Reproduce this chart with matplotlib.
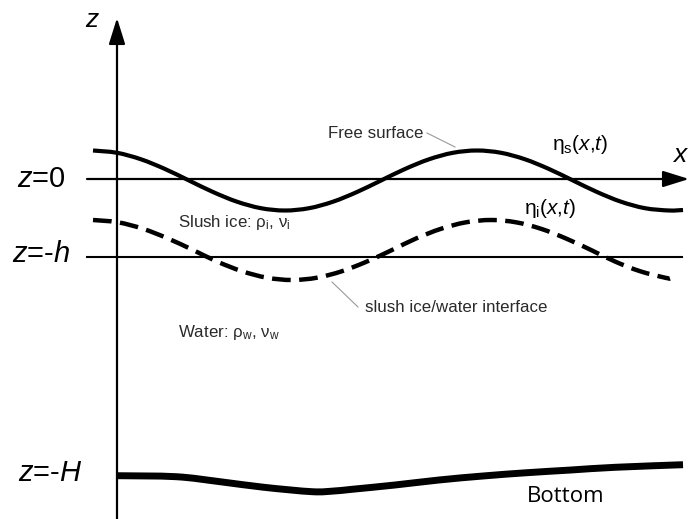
import matplotlib.pyplot as plt
from matplotlib.path import Path
from matplotlib.patches import PathPatch

plt.rcParams['font.family'] = ['Liberation Sans', 'DejaVu Sans']
plt.rcParams['mathtext.fontset'] = 'custom'
plt.rcParams['mathtext.rm'] = 'Liberation Sans'
plt.rcParams['mathtext.it'] = 'Liberation Sans:italic'

# levels of the reference lines (z=0 is the still free surface)
z_surface = 0
z_h = -78

# free surface eta_s(x,t)
surf_x = [93, 117, 141, 165, 189, 213, 237, 261, 285, 309, 333, 357, 381,
          405, 429, 453, 477, 501, 525, 549, 573, 597, 621, 645, 669, 683]
surf_z = [28.5, 26.2, 19.7, 10.0, -1.5, -13.0, -22.7, -29.2, -31.5, -29.2,
          -22.7, -13.0, -1.5, 10.0, 19.7, 26.2, 28.5, 26.2, 19.7, 10.0, -1.5,
          -13.0, -22.7, -29.2, -31.5, -31.0]

# slush ice / water interface eta_i(x,t)
intf_x = [93, 118, 143, 168, 193, 217, 242, 267, 292, 317, 342, 367, 392,
          416, 441, 466, 491, 516, 541, 566, 591, 615, 640, 665, 670]
intf_z = [-41.0, -43.3, -49.8, -59.5, -71.0, -82.5, -92.2, -98.7, -101.0,
          -98.7, -92.2, -82.5, -71.0, -59.5, -49.8, -43.3, -41.0, -43.3,
          -49.8, -59.5, -71.0, -82.5, -92.2, -98.7, -99.5]

# bottom z=-H
bot_x = [116, 176, 220, 264, 312, 334, 352, 395, 439, 483, 527, 571, 615, 683]
bot_z = [-296.7, -297.7, -302.7, -308.3, -312.7, -312.0, -310.3, -306.0,
         -301.0, -297.0, -293.7, -291.0, -288.3, -285.7]


def smooth_path(xs, ys):
    # Catmull-Rom through the given points, as cubic Bezier segments
    pts = list(zip(xs, ys))
    verts = [pts[0]]
    codes = [Path.MOVETO]
    for i in range(len(pts) - 1):
        p0 = pts[i - 1] if i > 0 else pts[i]
        p1, p2 = pts[i], pts[i + 1]
        p3 = pts[i + 2] if i + 2 < len(pts) else pts[i + 1]
        c1 = (p1[0] + (p2[0] - p0[0]) / 6, p1[1] + (p2[1] - p0[1]) / 6)
        c2 = (p2[0] - (p3[0] - p1[0]) / 6, p2[1] - (p3[1] - p1[1]) / 6)
        verts += [c1, c2, p2]
        codes += [Path.CURVE4] * 3
    return Path(verts, codes)


fig = plt.figure(figsize=(6.89, 5.19), dpi=100)
ax = fig.add_axes([0, 0, 1, 1])
ax.set_xlim(0, 689)
ax.set_ylim(-340, 179)
ax.axis('off')

arrow = dict(arrowstyle='-|>,head_length=0.8,head_width=0.25', lw=1.6,
             color='black', mutation_scale=20, shrinkA=0, shrinkB=0)
# z axis and x axis
ax.annotate('', xy=(117, 161), xytext=(117, -345), arrowprops=arrow)
ax.annotate('', xy=(689, z_surface), xytext=(87, z_surface), arrowprops=arrow)
ax.plot([87, 682], [z_h, z_h], color='black', lw=1.5)

ax.add_patch(PathPatch(smooth_path(surf_x, surf_z), fill=False,
                       edgecolor='black', lw=3.0, capstyle='butt'))
ax.add_patch(PathPatch(smooth_path(intf_x, intf_z), fill=False,
                       edgecolor='black', lw=3.2, capstyle='butt',
                       linestyle=(0, (4.2, 1.9))))
ax.add_patch(PathPatch(smooth_path(bot_x, bot_z), fill=False,
                       edgecolor='black', lw=5.0, capstyle='butt'))

# axis labels
ax.text(92, 159, '$z$', fontsize=19, ha='center', va='center')
ax.text(689, 24, '$x$', fontsize=19, ha='right', va='center')
ax.text(41, 0, '$z$=0', fontsize=21, ha='center', va='center')
ax.text(41, z_h + 3, '$z$=-$h$', fontsize=21, ha='center', va='center')
ax.text(50, -294, '$z$=-$H$', fontsize=21, ha='center', va='center')

ax.text(580, 34, r'η$_{\rm s}$($x$,$t$)', fontsize=15, ha='center', va='center')
ax.text(550, -29, r'η$_{\rm i}$($x$,$t$)', fontsize=15, ha='center', va='center')

small = dict(fontsize=12.2, ha='left', va='center', color='#2a2a2a')
ax.text(178, -44, r'Slush ice: ρ$_{\rm i}$, ν$_{\rm i}$', **small)
ax.text(178, -153, r'Water: ρ$_{\rm w}$, ν$_{\rm w}$', **small)
ax.text(328, 46, 'Free surface', **small)
ax.text(365, -128, 'slush ice/water interface', **small)
ax.text(566, -318, 'Bottom', fontsize=16, ha='center', va='center',
        family=['Open Sans', 'DejaVu Sans'])

# leader lines to the labels
ax.plot([427, 455], [46, 32], color='#999999', lw=0.8)
ax.plot([332, 358], [-103, -128], color='#999999', lw=0.8)

fig.savefig('out.png', dpi=100)
